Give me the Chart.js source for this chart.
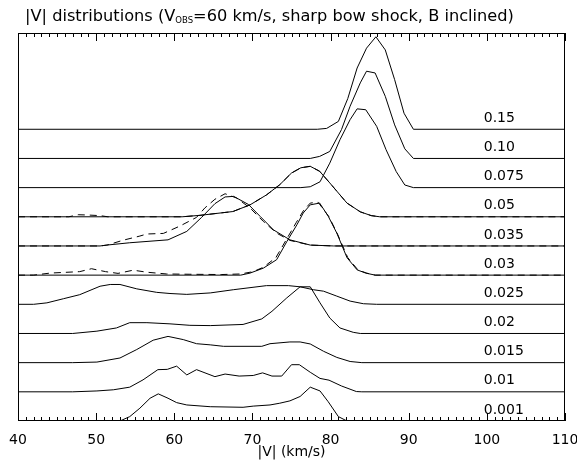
<!DOCTYPE html>
<html>
<head>
<meta charset="utf-8">
<script src="https://cdn.jsdelivr.net/npm/chart.js@4.4.1/dist/chart.umd.min.js"></script>
<style>
  html, body { margin: 0; padding: 0; background: #fff; }
</style>
</head>
<body>
<canvas id="chartRidge" width="577" height="461"></canvas>
<script>
// Each curve: [|V| (km/s), height above its own baseline]; baselines are stacked one unit apart.
const curveLabels = ["0.15", "0.10", "0.075", "0.05", "0.035", "0.03", "0.025", "0.02", "0.015", "0.01", "0.001"];
const curveOffsets = [10, 9, 8, 7, 6, 5, 4, 3, 2, 1, 0];

const v015 = [[40,0],[78.3,0],[79.5,0.03],[81,0.27],[82.2,1.05],[83.4,2.1],[84.6,2.78],[85.8,3.17],[87,2.72],[88.2,1.7],[89.4,0.55],[90.6,0],[110,0]];
const v010 = [[40,0],[77.4,0],[78.6,0.07],[79.9,0.24],[81.4,0.99],[82.5,1.79],[83.8,2.59],[84.6,2.99],[85.7,2.93],[87.0,2.13],[88.2,1.15],[89.5,0.33],[90.6,0],[110,0]];
const v0075 = [[40,0],[76.2,0],[77.4,0.03],[78.65,0.2],[79.9,0.84],[81.2,1.64],[82.5,2.33],[83.4,2.7],[84.5,2.67],[85.9,2.1],[87.1,1.3],[88.4,0.55],[89.5,0.09],[90.6,0],[110,0]];
const v005 = [[40,0],[61,0],[63.3,0.05],[67.5,0.18],[69.7,0.41],[71.8,0.75],[73.5,1.1],[75.0,1.5],[76.2,1.68],[77.4,1.73],[78.6,1.56],[79.9,1.16],[82.1,0.47],[83.8,0.17],[85.2,0.04],[86.3,0],[110,0]];
const v0035 = [[40,0],[50.5,0],[51.35,0.03],[54.3,0.11],[59.2,0.21],[61.6,0.5],[63.5,0.98],[65.2,1.45],[66.5,1.68],[67.6,1.7],[69.5,1.42],[71.0,1.01],[72.7,0.55],[74.8,0.21],[77.4,0.03],[80.4,0],[110,0]];
const v003 = [[40,0],[68.5,0],[69.7,0.07],[71.4,0.24],[73.1,0.53],[74.4,1.15],[75.7,1.73],[76.5,2.13],[77.4,2.41],[78.6,2.47],[79.7,2.02],[80.8,1.44],[82.1,0.6],[83.4,0.18],[84.5,0.07],[85.7,0],[110,0]];
const v0025 = [[40,0],[42,0],[43.7,0.05],[45.8,0.19],[47.9,0.33],[50.5,0.62],[51.8,0.68],[53.05,0.68],[55.2,0.53],[57.75,0.41],[59.45,0.37],[61.6,0.34],[64.6,0.39],[67.55,0.5],[71.8,0.64],[74.6,0.64],[76.1,0.6],[77.8,0.5],[79.1,0.45],[80.8,0.28],[82.5,0.11],[84.2,0.02],[85.9,0],[110,0]];
const v002 = [[40,0],[47,0],[50.1,0.08],[52.6,0.19],[54.3,0.37],[56.5,0.37],[59.45,0.33],[62.0,0.28],[64.6,0.27],[68.8,0.31],[71.2,0.5],[72.5,0.76],[74.4,1.22],[76.1,1.6],[77.4,1.6],[78.65,1.05],[79.9,0.53],[81.2,0.19],[82.9,0.04],[83.8,0],[110,0]];
const v0015 = [[40,0],[47,0],[50.1,0.02],[53.05,0.16],[55.2,0.45],[57.3,0.77],[59.2,0.9],[61.15,0.79],[62.85,0.65],[64.6,0.61],[66.3,0.56],[71.2,0.56],[72.25,0.65],[74.8,0.71],[76.1,0.71],[77.4,0.64],[79.1,0.39],[80.8,0.18],[82.5,0.04],[84,0],[110,0]];
const v001 = [[40,0],[47,0],[50.1,0.03],[52.2,0.07],[54.3,0.16],[56.0,0.41],[57.9,0.76],[59.1,0.77],[60.3,0.88],[61.6,0.58],[62.85,0.76],[65.2,0.52],[66.5,0.61],[68.3,0.54],[70.1,0.56],[71.3,0.65],[72.5,0.54],[73.75,0.54],[75.0,0.93],[76.0,0.93],[77.4,0.67],[78.65,0.46],[79.8,0.4],[81.4,0.2],[83.3,0.01],[84,0],[110,0]];
const v0001 = [[40,0],[53.05,0],[54.3,0.15],[55.6,0.44],[56.9,0.78],[57.95,0.93],[59.2,0.78],[60.3,0.63],[61.6,0.55],[64.6,0.49],[68.8,0.47],[70.1,0.51],[72.25,0.55],[73.5,0.61],[74.8,0.69],[76.1,0.84],[77.4,1.16],[78.65,1.03],[79.7,0.66],[81.0,0.15],[82.1,0],[110,0]];

// dashed companions where they differ visibly from the solid curve
const d005 = [[40,0],[46.5,0],[47.7,0.07],[49.0,0.06],[50.5,0.04],[51.5,0],[61,0],[63.3,0.05],[67.5,0.18],[69.7,0.41],[71.8,0.75],[73.5,1.1],[75.0,1.5],[76.2,1.68],[77.4,1.73],[78.6,1.56],[79.9,1.16],[82.1,0.47],[83.8,0.17],[85.2,0.04],[86.3,0],[110,0]];
const d0035 = [[40,0],[50.5,0],[51.4,0.03],[53.5,0.2],[55.6,0.34],[56.5,0.41],[58.6,0.43],[60.7,0.68],[62.85,0.98],[63.9,1.3],[65.2,1.6],[66.5,1.79],[68.0,1.64],[69.7,1.3],[71.4,0.84],[73.1,0.44],[74.8,0.19],[77.4,0.03],[80.4,0],[110,0]];
const d003 = [[40,0],[42,0],[44.1,0.07],[47.9,0.12],[49.4,0.22],[51.2,0.12],[52.8,0.06],[54.75,0.17],[56.5,0.1],[59.0,0.04],[62,0.03],[66,0.02],[68.5,0.04],[70.1,0.12],[71.4,0.27],[73.0,0.6],[74.3,1.2],[75.6,1.8],[76.5,2.2],[77.4,2.47],[78.4,2.5],[79.8,2.0],[80.9,1.4],[82.2,0.6],[83.5,0.18],[84.6,0.07],[85.7,0],[110,0]];

const solidCurves = [v015, v010, v0075, v005, v0035, v003, v0025, v002, v0015, v001, v0001];
const dashedCurves = [[3, d005], [4, d0035], [5, d003]];

function toPoints(curve, offset) {
    return curve.map(([v, h]) => ({x: v, y: offset + h}));
}

const datasets = [];
solidCurves.forEach((c, i) => {
    datasets.push({data: toPoints(c, curveOffsets[i]), borderColor: '#000', borderWidth: 1});
});
dashedCurves.forEach(([i, c]) => {
    datasets.push({data: toPoints(c, curveOffsets[i]), borderColor: '#000', borderWidth: 1, borderDash: [7, 5]});
});

const fontFamily = '"DejaVu Sans", sans-serif';

// box, inward ticks on top/bottom, curve labels and title with subscript
const decorPlugin = {
    id: 'decor',
    afterDraw(chart) {
        const ctx = chart.ctx;
        const a = chart.chartArea;
        const xs = chart.scales.x;
        const ys = chart.scales.y;
        ctx.save();
        ctx.strokeStyle = '#000';
        ctx.lineWidth = 1;
        ctx.strokeRect(a.left + 0.5, a.top + 0.5, a.right - a.left - 1, a.bottom - a.top - 1);

        ctx.beginPath();
        for (let v = 40; v <= 110; v++) {
            const px = Math.round(xs.getPixelForValue(v)) + 0.5;
            const len = v % 10 === 0 ? 8 : 4;
            ctx.moveTo(px, a.bottom);
            ctx.lineTo(px, a.bottom - len);
            ctx.moveTo(px, a.top);
            ctx.lineTo(px, a.top + len);
        }
        ctx.stroke();

        ctx.fillStyle = '#000';
        ctx.font = '14px ' + fontFamily;
        ctx.textAlign = 'left';
        ctx.textBaseline = 'middle';
        curveLabels.forEach((t, i) => {
            ctx.fillText(t, xs.getPixelForValue(99.6), ys.getPixelForValue(curveOffsets[i] + 0.38));
        });

        // title
        const parts = [
            ['|V| distributions (V', 16.2, 0],
            ['OBS', 8.5, 2],
            ['=60 km/s, sharp bow shock, B inclined)', 16.2, 0]
        ];
        ctx.textBaseline = 'alphabetic';
        let x = 25;
        parts.forEach(([t, s, dy]) => {
            ctx.font = s + 'px ' + fontFamily;
            ctx.fillText(t, x, 20.5 + dy);
            x += ctx.measureText(t).width;
        });
        ctx.restore();
    }
};

new Chart(document.getElementById('chartRidge').getContext('2d'), {
    type: 'line',
    data: {datasets: datasets},
    options: {
        responsive: false,
        animation: false,
        elements: {point: {radius: 0}, line: {tension: 0, fill: false}},
        layout: {padding: {left: 18, right: 12, top: 33, bottom: 0}},
        plugins: {legend: {display: false}, tooltip: {enabled: false}},
        scales: {
            x: {
                type: 'linear',
                min: 40,
                max: 110,
                ticks: {stepSize: 10, color: '#000', font: {size: 14, family: fontFamily}, padding: 3, maxRotation: 0},
                grid: {display: false},
                border: {display: false},
                title: {display: true, text: '|V| (km/s)', color: '#000', font: {size: 14, family: fontFamily}, padding: 0},
                afterFit(scale) {
                    scale.height = 40;
                    scale.paddingLeft = 0;
                    scale.paddingRight = 0;
                }
            },
            y: {
                type: 'linear',
                display: false,
                min: 0,
                max: 13.3
            }
        }
    },
    plugins: [decorPlugin]
});
</script>
</body>
</html>
